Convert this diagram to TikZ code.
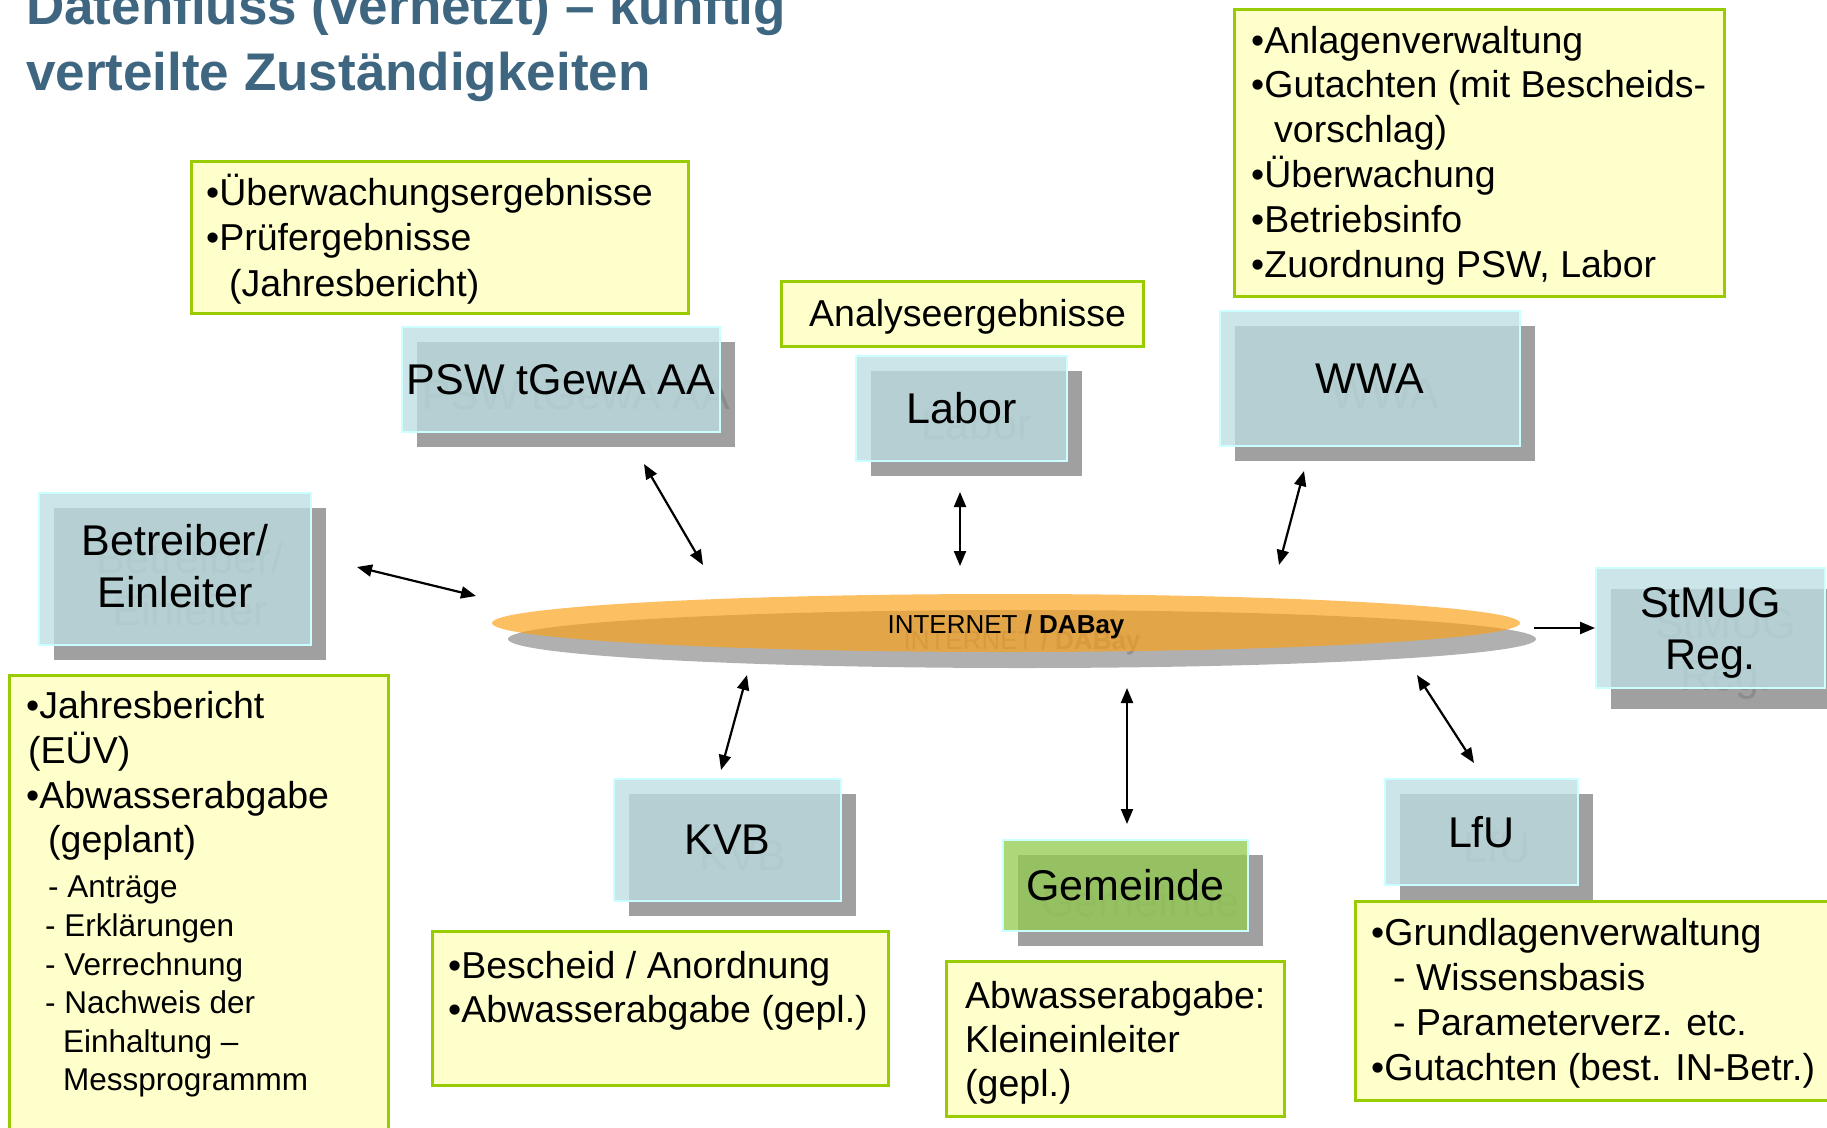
\documentclass[tikz,border=0pt]{standalone}
\usepackage{fontspec}
\setmainfont{Liberation Sans}
\usetikzlibrary{shapes.geometric,arrows.meta}
\definecolor{titleblue}{RGB}{62,102,128}
\definecolor{yfill}{RGB}{255,255,204}
\definecolor{yedge}{RGB}{153,204,0}
\definecolor{boxfill}{RGB}{188,222,226}
\definecolor{boxedge}{RGB}{204,255,255}
\definecolor{greenfill}{RGB}{148,204,79}
\definecolor{shgray}{RGB}{160,160,160}
\definecolor{shtext}{RGB}{140,140,140}
\definecolor{netfill}{RGB}{252,160,21}
\definecolor{netshadow}{RGB}{176,176,176}
\definecolor{netshtext}{RGB}{144,144,144}
\begin{document}
\begin{tikzpicture}[x=1pt,y=-1pt,
  ybox/.style={draw=yedge, fill=yfill, line width=2.5pt, rectangle, anchor=north west, inner sep=0pt},
  ln/.style={anchor=base west, inner sep=0pt, font=\fontsize{37.5}{44}\selectfont},
  lns/.style={anchor=base west, inner sep=0pt, font=\fontsize{31.5}{38}\selectfont},
  shbox/.style={fill=shgray, anchor=north west, text=shtext, align=center, inner sep=0pt,
    font=\fontsize{43}{51.6}\selectfont},
  fbox/.style={fill=boxfill, fill opacity=0.76, text opacity=1, draw=boxedge, line width=2pt,
    anchor=north west, align=center, inner sep=0pt, font=\fontsize{43}{51.6}\selectfont},
  gbox/.style={fbox, fill=greenfill},
  netshape/.style={ellipse, minimum width=1028pt, minimum height=58pt, inner sep=0pt},
  nettxt/.style={anchor=base, inner sep=0pt, font=\fontsize{26}{31}\selectfont},
  conn/.style={line width=2.2pt, {Triangle[length=15pt,width=12pt]}-{Triangle[length=15pt,width=12pt]}},
  oneway/.style={line width=2.2pt, -{Triangle[length=15pt,width=12pt]}},
  ttl/.style={anchor=base west, inner sep=0pt, text=titleblue, font=\bfseries\fontsize{53}{64}\selectfont}
]
\useasboundingbox (0,0) rectangle (1827,1127);
\fill[white] (0,0) rectangle (1827,1127);

% Title
\node[ttl] (title1) at (26,24) {Datenfluss (vernetzt) – künftig};
\node[ttl] (title2) at (26,90) {verteilte Zuständigkeiten};

% Yellow text boxes
\node[ybox, minimum width=497pt, minimum height=152pt] (y1) at (190,160) {};
\node[ln] (y1a) at (206,205) {•Überwachungsergebnisse};
\node[ln] (y1b) at (206,250) {•Prüfergebnisse};
\node[ln] (y1c) at (229,296) {(Jahresbericht)};

\node[ybox, minimum width=362pt, minimum height=65pt] (y2) at (780,280) {};
\node[ln] (y2a) at (809,326) {Analyseergebnisse};

\node[ybox, minimum width=490pt, minimum height=287pt] (y3) at (1233,8) {};
\node[ln] (y3a) at (1251,53) {•Anlagenverwaltung};
\node[ln] (y3b) at (1251,97) {•Gutachten (mit Bescheids-};
\node[ln] (y3c) at (1274,142) {vorschlag)};
\node[ln] (y3d) at (1251,187) {•Überwachung};
\node[ln] (y3e) at (1251,232) {•Betriebsinfo};
\node[ln] (y3f) at (1251,277) {•Zuordnung PSW, Labor};

\node[ybox, minimum width=379pt, minimum height=470pt] (y4) at (8,674) {};
\node[ln] (y4a) at (26,718) {•Jahresbericht};
\node[ln] (y4b) at (28,763) {(EÜV)};
\node[ln] (y4c) at (26,808) {•Abwasserabgabe};
\node[ln] (y4d) at (48,852) {(geplant)};
\node[lns] (y4e) at (48,897) {- Anträge};
\node[lns] (y4f) at (45,936) {- Erklärungen};
\node[lns] (y4g) at (45,975) {- Verrechnung};
\node[lns] (y4h) at (45,1013) {- Nachweis der};
\node[lns] (y4i) at (63,1052) {Einhaltung –};
\node[lns] (y4j) at (63,1090) {Messprogrammm};

\node[ybox, minimum width=456pt, minimum height=154pt] (y5) at (431,930) {};
\node[ln] (y5a) at (448,978) {•Bescheid / Anordnung};
\node[ln] (y5b) at (448,1022) {•Abwasserabgabe (gepl.)};

\node[ybox, minimum width=338pt, minimum height=155pt] (y6) at (945,960) {};
\node[ln] (y6a) at (965,1008) {Abwasserabgabe:};
\node[ln] (y6b) at (965,1052) {Kleineinleiter};
\node[ln] (y6c) at (965,1096) {(gepl.)};

\node[ybox, minimum width=480pt, minimum height=199pt] (y7) at (1354,900) {};
\node[ln] (y7a) at (1371,945) {•Grundlagenverwaltung};
\node[ln] (y7b) at (1393,990) {- Wissensbasis};
\node[ln] (y7c) at (1393,1035) {- Parameterverz. etc.};
\node[ln] (y7d) at (1371,1080) {•Gutachten (best. IN-Betr.)};

% Internet ellipse
\node[netshape, fill=netshadow] (netS) at (1022,639) {};
\node[nettxt, text=netshtext] (nettS) at (1022,649) {INTERNET \textbf{/ DABay}};
\node[netshape, fill=netfill, fill opacity=0.67] (net) at (1006,623) {};
\node[nettxt] (nett) at (1006,633) {INTERNET \textbf{/ DABay}};

% Actor boxes: shadows
\node[shbox, minimum width=318pt, minimum height=105pt] (pswS) at (417,342) {PSW tGewA AA};
\node[shbox, minimum width=211pt, minimum height=105pt] (laborS) at (871,371) {Labor};
\node[shbox, minimum width=300pt, minimum height=135pt] (wwaS) at (1235,326) {WWA};
\node[shbox, minimum width=272pt, minimum height=152pt] (betrS) at (54,508) {Betreiber/\\Einleiter};
\node[shbox, minimum width=229pt, minimum height=120pt, text depth=0pt, yshift=-6pt] (stmugS) at (1611,583) {StMUG\\Reg.};
\node[shbox, minimum width=227pt, minimum height=122pt] (kvbS) at (629,794) {KVB};
\node[shbox, minimum width=245pt, minimum height=91pt] (gemS) at (1018,855) {Gemeinde};
\node[shbox, minimum width=193pt, minimum height=106pt] (lfuS) at (1400,794) {LfU};

% Actor boxes: front
\node[fbox, minimum width=318pt, minimum height=105pt] (psw) at (401,326) {PSW tGewA AA};
\node[fbox, minimum width=211pt, minimum height=105pt] (labor) at (855,355) {Labor};
\node[fbox, minimum width=300pt, minimum height=135pt] (wwa) at (1219,310) {WWA};
\node[fbox, minimum width=272pt, minimum height=152pt] (betr) at (38,492) {};
\node[align=center, inner sep=0pt, font=\fontsize{43}{51.6}\selectfont] (betrT) at ([yshift=3pt]betr.center) {Betreiber/\\Einleiter};
\node[fbox, minimum width=229pt, minimum height=120pt] (stmug) at (1595,567) {};
\node[align=center, inner sep=0pt, font=\fontsize{43}{51.6}\selectfont] (stmugT) at ([yshift=-5pt]stmug.center) {StMUG\\Reg.};
\node[fbox, minimum width=227pt, minimum height=122pt] (kvb) at (613,778) {KVB};
\node[gbox, minimum width=245pt, minimum height=91pt] (gem) at (1002,839) {Gemeinde};
\node[fbox, minimum width=193pt, minimum height=106pt] (lfu) at (1384,778) {LfU};

% Connector end points
\coordinate (a1s) at (357,567); \coordinate (a1e) at (476,596);
\coordinate (a2s) at (644,464); \coordinate (a2e) at (703,565);
\coordinate (a3s) at (960,492); \coordinate (a3e) at (960,566);
\coordinate (a4s) at (1304,471); \coordinate (a4e) at (1279,565);
\coordinate (a5s) at (1534,628);
\coordinate (a6s) at (747,675); \coordinate (a6e) at (721,770);
\coordinate (a7s) at (1127,688); \coordinate (a7e) at (1127,824);
\coordinate (a8s) at (1417,675); \coordinate (a8e) at (1474,763);

\draw[conn] (a1s) -- (a1e);
\draw[conn] (a2s) -- (a2e);
\draw[conn] (a3s) -- (a3e);
\draw[conn] (a4s) -- (a4e);
\draw[oneway] (a5s) -- (stmug.west |- a5s);
\draw[conn] (a6s) -- (a6e);
\draw[conn] (a7s) -- (a7e);
\draw[conn] (a8s) -- (a8e);
\end{tikzpicture}
\end{document}
